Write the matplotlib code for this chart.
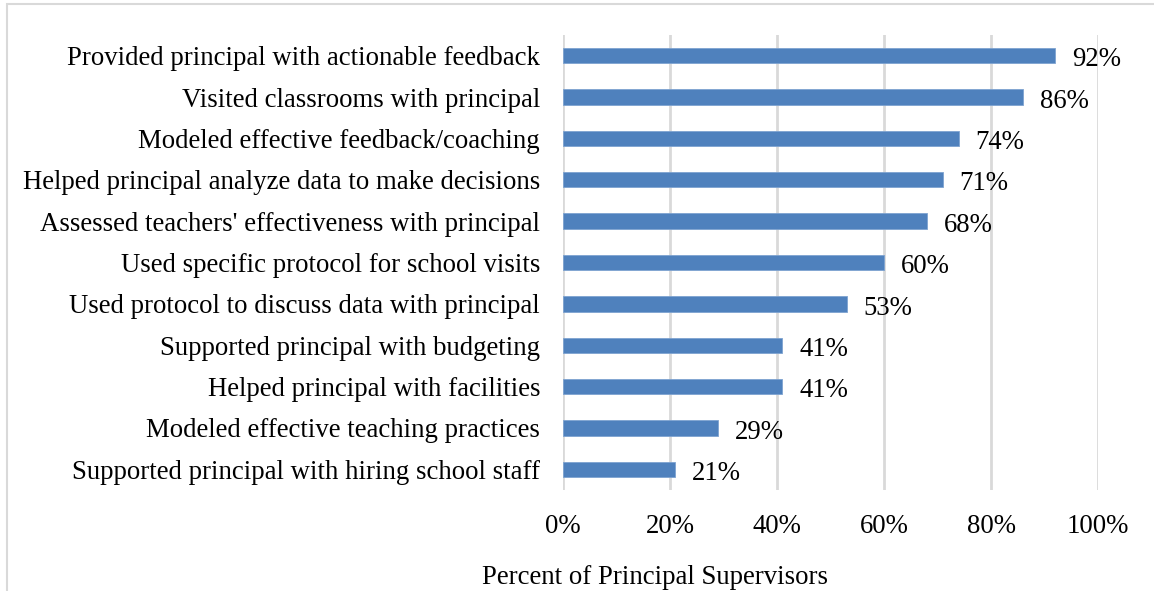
import matplotlib.pyplot as plt
from matplotlib.patches import Rectangle
from matplotlib.ticker import FuncFormatter

plt.rcParams['font.family'] = ['Liberation Serif', 'DejaVu Serif']

# Supervisor activities, listed top to bottom as drawn
activities = [
    "Provided principal with actionable feedback",
    "Visited classrooms with principal",
    "Modeled effective feedback/coaching",
    "Helped principal analyze data to make decisions",
    "Assessed teachers' effectiveness with principal",
    "Used specific protocol for school visits",
    "Used protocol to discuss data with principal",
    "Supported principal with budgeting",
    "Helped principal with facilities",
    "Modeled effective teaching practices",
    "Supported principal with hiring school staff",
]
percent = [92, 86, 74, 71, 68, 60, 53, 41, 41, 29, 21]
x_ticks = [0, 20, 40, 60, 80, 100]

FS = 19.3
W, H = 1154, 591
fig = plt.figure(figsize=(W / 100, H / 100), dpi=100)
ax = fig.add_axes([563 / W, 1 - 490 / H, (1098 - 563) / W, (490 - 35) / H])

# outer chart frame (cropped on right and bottom)
fig.patches.append(Rectangle((7 / W, -0.1), 1.2, 1 - 4 / H + 0.1,
                             transform=fig.transFigure, fill=False,
                             edgecolor='#d9d9d9', linewidth=1.5))

y = list(range(len(activities)))
ax.barh(y, percent, height=0.37, color='#4f81bd', edgecolor='#7ea3d0',
        linewidth=0.6, zorder=3)
for yi, v in zip(y, percent):
    ax.annotate(f"{v}%", (v, yi), xytext=(12, -3), textcoords='offset points',
                va='center', ha='left', fontsize=FS, zorder=4)

ax.set_xlim(0, 100)
ax.set_ylim(len(activities) - 0.5, -0.5)
ax.set_xticks(x_ticks)
ax.xaxis.set_major_formatter(FuncFormatter(lambda v, p: f"{v:.0f}%"))
ax.set_yticks(y)
ax.set_yticklabels(activities)
ax.tick_params(axis='both', length=0, labelsize=FS)
ax.tick_params(axis='y', pad=16.5)
ax.tick_params(axis='x', pad=17)
ax.grid(axis='x', color='#d9d9d9', linewidth=2, zorder=0)
for s in ax.spines.values():
    s.set_visible(False)

fig.text(655 / W, 1 - 577 / H, "Percent of Principal Supervisors",
         ha='center', va='center', fontsize=FS)

fig.savefig('out.png', dpi=100)
